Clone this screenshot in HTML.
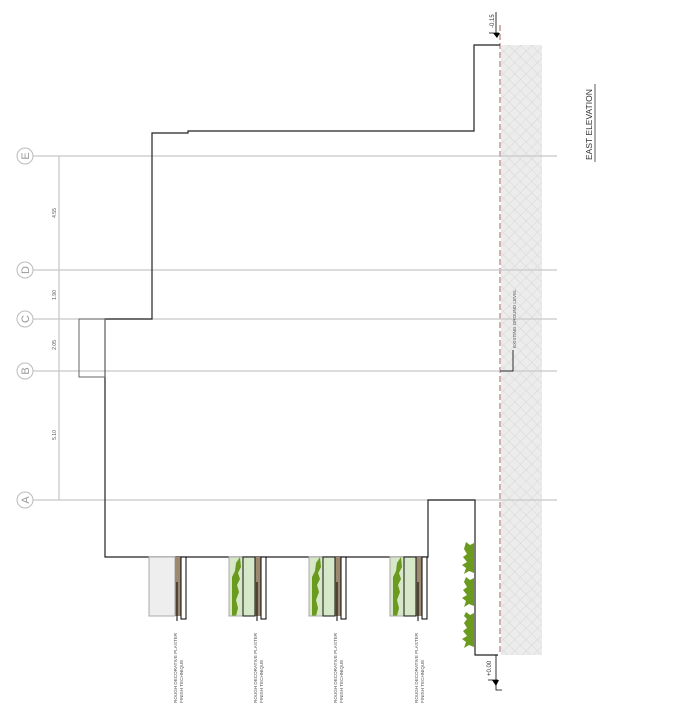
<!DOCTYPE html>
<html><head><meta charset="utf-8"><style>
html,body{margin:0;padding:0;background:#fff;}
svg{display:block;font-family:"Liberation Sans",sans-serif;}
</style></head><body>
<svg width="692" height="709" viewBox="0 0 692 709" xmlns="http://www.w3.org/2000/svg">
<defs>
<pattern id="h" width="8" height="8" patternUnits="userSpaceOnUse" patternTransform="rotate(45)">
<rect width="8" height="8" fill="#ececec"/>
<path d="M0 0V8M0 0H8" stroke="#cfcfcf" stroke-width="0.7"/>
</pattern>
<g id="u">
<rect x="0" y="0" width="26" height="59" fill="#eeeeee" stroke="#aaa" stroke-width="1"/>
<rect x="26" y="0" width="6" height="59" fill="#9c8a70"/>
<rect x="32" y="0" width="5" height="62" fill="#fff" stroke="#000" stroke-width="1"/>
<path d="M28 25V64" stroke="#000" stroke-width="1"/>
</g>
<g id="p">
<rect x="0" y="0" width="26" height="59" fill="#d6e8c8"/>
<path d="M3 59V20l3-6 1-8 4-6 1 10-3 6 2 6-3 6 2 7-3 8 2 8-2 8z" fill="#6a9a1e"/>
<rect x="0" y="0" width="26" height="59" fill="none" stroke="#aaa" stroke-width="1"/>
</g>
</defs>
<rect x="501" y="45" width="41" height="610" fill="url(#h)"/>
<line x1="500" y1="25" x2="500" y2="655" stroke="#a36060" stroke-width="1" stroke-dasharray="6,3"/>
<g stroke="#c8c8c8" stroke-width="1.3">
<line x1="33" y1="156" x2="557" y2="156"/>
<line x1="33" y1="270" x2="557" y2="270"/>
<line x1="33" y1="319" x2="557" y2="319"/>
<line x1="33" y1="371" x2="557" y2="371"/>
<line x1="33" y1="500" x2="557" y2="500"/>
<line x1="59" y1="156" x2="59" y2="500"/>
</g>
<g fill="none" stroke="#bbb" stroke-width="1">
<circle cx="25" cy="156" r="8"/><circle cx="25" cy="270" r="8"/><circle cx="25" cy="319" r="8"/><circle cx="25" cy="371" r="8"/><circle cx="25" cy="500" r="8"/>
</g>
<g font-size="11" fill="#999" text-anchor="middle">
<text transform="translate(29,156) rotate(-90)">E</text>
<text transform="translate(29,270) rotate(-90)">D</text>
<text transform="translate(29,319) rotate(-90)">C</text>
<text transform="translate(29,371) rotate(-90)">B</text>
<text transform="translate(29,500) rotate(-90)">A</text>
</g>
<g font-size="5" fill="#555" text-anchor="middle">
<text transform="translate(56,213) rotate(-90)">4.55</text>
<text transform="translate(56,295) rotate(-90)">1.90</text>
<text transform="translate(56,345) rotate(-90)">2.05</text>
<text transform="translate(56,435) rotate(-90)">5.10</text>
</g>
<path d="M500 45H474V131H188V133H152V319H105V557H428V500H475V655H498" fill="none" stroke="#222" stroke-width="1.2"/>
<rect x="79" y="319" width="26" height="58" fill="none" stroke="#666" stroke-width="1"/>
<use href="#u" x="149" y="557"/>
<use href="#u" x="229" y="557"/>
<use href="#u" x="309" y="557"/>
<use href="#u" x="390" y="557"/>
<use href="#p" x="229" y="557"/><use href="#p" x="309" y="557"/><use href="#p" x="390" y="557"/>
<g fill="none" stroke="#111" stroke-width="1">
<rect x="243" y="557" width="12" height="59"/><rect x="323" y="557" width="12" height="59"/><rect x="404" y="557" width="12" height="59"/>
</g>
<g fill="#6a9a1e">
<path d="M466 542l4 3 4-2v30l-5-2-5 3 2-6-4-3 5-3-4-5 4-3-3-5z"/>
<path d="M466 577l4 3 4-2v28l-5-2-5 3 2-6-4-3 5-3-4-5 4-3-3-5z"/>
<path d="M466 612l4 3 4-2v34l-5-2-5 3 2-6-4-3 5-3-4-5 4-3-3-5 3-4-3-3z"/>
</g>
<g font-size="4.6" fill="#555">
<text transform="translate(177,703) rotate(-90)">ROUGH DECORATIVE PLASTER</text>
<text transform="translate(183,703) rotate(-90)">FINISH TECHNIQUE</text>
<text transform="translate(257,703) rotate(-90)">ROUGH DECORATIVE PLASTER</text>
<text transform="translate(263,703) rotate(-90)">FINISH TECHNIQUE</text>
<text transform="translate(337,703) rotate(-90)">ROUGH DECORATIVE PLASTER</text>
<text transform="translate(343,703) rotate(-90)">FINISH TECHNIQUE</text>
<text transform="translate(418,703) rotate(-90)">ROUGH DECORATIVE PLASTER</text>
<text transform="translate(424,703) rotate(-90)">FINISH TECHNIQUE</text>
<text transform="translate(516,348) rotate(-90)">EXISTING GROUND LEVEL</text>
</g>
<path d="M513 350V371H500" fill="none" stroke="#000" stroke-width="0.8"/>
<g font-size="6" fill="#333">
<text transform="translate(494,28) rotate(-90)">-0.15</text>
<text transform="translate(491,676) rotate(-90)">+0.00</text>
</g>
<path d="M496 12V33M489 33H499" stroke="#000" stroke-width="0.8" fill="none"/>
<path d="M493 33L500 33L497 38z" fill="#000"/>
<path d="M496 655V690H502M488 680H498" stroke="#000" stroke-width="0.8" fill="none"/>
<path d="M492 680L499 680L496 686z" fill="#000"/>
<text transform="translate(592,160) rotate(-90)" font-size="8.5" fill="#333">EAST ELEVATION</text>
<line x1="595" y1="84" x2="595" y2="162" stroke="#333" stroke-width="0.8"/>
</svg>
</body></html>
